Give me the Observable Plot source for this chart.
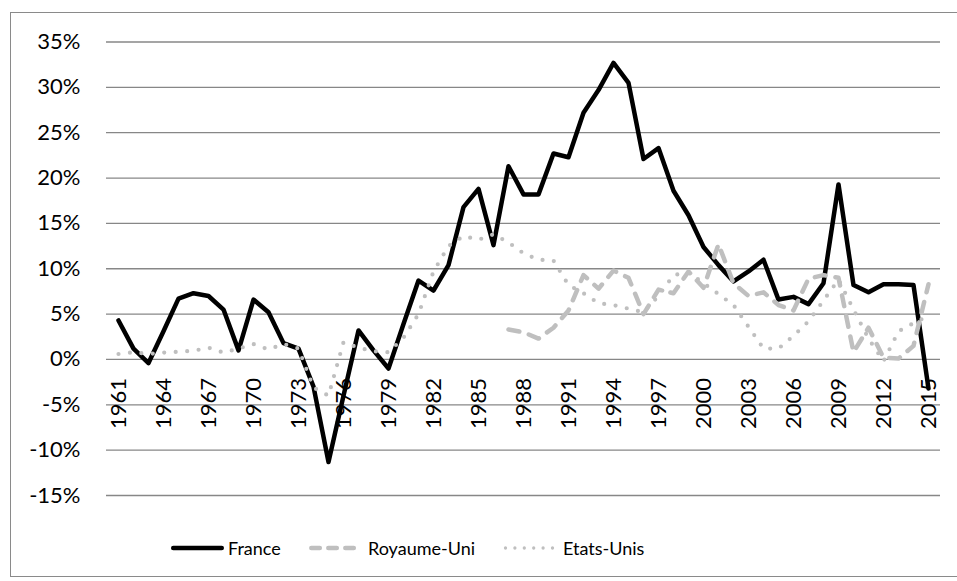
<!DOCTYPE html>
<html>
<head>
<meta charset="utf-8">
<script src="https://cdn.jsdelivr.net/npm/d3@7"></script>
<script src="https://cdn.jsdelivr.net/npm/@observablehq/plot@0.6"></script>
<style>
  body { margin: 0; background: #fff; }
  #wrap { position: relative; width: 957px; height: 581px; overflow: hidden; font-family: Lato, "Open Sans", sans-serif; }
  #frame { position: absolute; left: 9.5px; top: 12px; width: 960px; height: 565px; border: 1.3px solid #8a8a8a; box-sizing: border-box; pointer-events: none; }
  #chart { position: absolute; left: 0; top: 0; }
  #legend { position: absolute; left: 0; top: 520px; }
</style>
</head>
<body>
<div id="wrap">
  <div id="chart"></div>
  <div id="legend"></div>
  <div id="frame"></div>
</div>
<script>
// ---- Data ----
const years = [1961,1962,1963,1964,1965,1966,1967,1968,1969,1970,
               1971,1972,1973,1974,1975,1976,1977,1978,1979,1980,
               1981,1982,1983,1984,1985,1986,1987,1988,1989,1990,
               1991,1992,1993,1994,1995,1996,1997,1998,1999,2000,
               2001,2002,2003,2004,2005,2006,2007,2008,2009,2010,
               2011,2012,2013,2014,2015];

const france = [4.3, 1.2, -0.4, 3.1, 6.7, 7.3, 7.0, 5.5, 1.0, 6.6,
                5.2, 1.8, 1.2, -3.0, -11.3, -4.0, 3.2, 1.0, -1.0, 3.9,
                8.7, 7.6, 10.4, 16.8, 18.8, 12.6, 21.3, 18.2, 18.2, 22.7,
                22.3, 27.2, 29.7, 32.7, 30.5, 22.1, 23.3, 18.6, 15.9, 12.4,
                10.4, 8.6, 9.7, 11.0, 6.6, 6.9, 6.1, 8.4, 19.3, 8.2,
                7.4, 8.3, 8.3, 8.2, -3.2];

const ukYears = [1987,1988,1989,1990,1991,1992,1993,1994,1995,1996,
                 1997,1998,1999,2000,2001,2002,2003,2004,2005,2006,
                 2007,2008,2009,2010,2011,2012,2013,2014,2015];
const royaumeUni = [3.3, 3.0, 2.3, 3.5, 5.4, 9.3, 7.8, 9.8, 9.0, 5.0,
                    7.7, 7.3, 9.7, 7.9, 12.7, 8.4, 7.0, 7.4, 6.0, 5.4,
                    8.9, 9.3, 9.0, 0.8, 3.5, 0.2, 0.1, 1.5, 8.3];

const etatsUnis = [0.6, 0.8, 0.6, 0.75, 0.85, 0.95, 1.3, 0.75, 1.2, 1.7,
                   1.1, 1.7, 1.2, -3.1, -4.0, 1.9, 1.3, 0.9, 0.8, 2.4,
                   5.0, 9.7, 12.5, 13.6, 13.2, 13.8, 12.9, 11.7, 11.0, 10.9,
                   8.2, 7.3, 6.2, 6.0, 5.6, 5.2, 7.0, 9.3, 9.6, 8.4,
                   7.2, 6.0, 3.6, 1.2, 1.2, 2.6, 4.2, 6.5, 8.8, 5.5,
                   2.3, -0.2, 3.1, 4.0, 4.8];

const xTickYears = [1961,1964,1967,1970,1973,1976,1979,1982,1985,1988,
                    1991,1994,1997,2000,2003,2006,2009,2012,2015];
const yTicks = [-15,-10,-5,0,5,10,15,20,25,30,35];
const seriesNames = ["France", "Royaume-Uni", "Etats-Unis"];

// ---- Tables built from the arrays ----
const franceData = years.map((year, i) => ({year, value: france[i]}));
const ukData = ukYears.map((year, i) => ({year, value: royaumeUni[i]}));
const usData = years.map((year, i) => ({year, value: etatsUnis[i]}));

const GREY = "#bfbfbf";

const chart = Plot.plot({
  width: 957,
  height: 520,
  marginLeft: 106,
  marginRight: 17,
  marginTop: 41.5,
  marginBottom: 25,
  style: {fontFamily: "Lato, 'Open Sans', sans-serif", fontSize: "22px", color: "#000", background: "transparent", overflow: "visible"},
  x: {type: "point", domain: years, padding: 0.5, axis: null},
  y: {domain: [-15, 35], ticks: yTicks, tickFormat: d => `${d}%`, tickSize: 0, tickPadding: 26, label: null},
  marks: [
    Plot.ruleY(yTicks, {stroke: "#878787", strokeWidth: 1.3}),
    Plot.text(xTickYears, {x: d => d, y: d => 0, text: d => String(d), rotate: -90, textAnchor: "end", dy: 18.5, fontSize: 22, fill: "#000"}),
    Plot.line(franceData, {x: "year", y: "value", stroke: "#000", strokeWidth: 4.5, strokeLinejoin: "round", strokeLinecap: "round"}),
    Plot.line(ukData, {x: "year", y: "value", stroke: GREY, strokeWidth: 4.5, strokeDasharray: "11,10", strokeLinecap: "round", strokeLinejoin: "round"}),
    Plot.line(usData, {x: "year", y: "value", stroke: GREY, strokeWidth: 4.2, strokeDasharray: "0,11.5", strokeLinecap: "round", strokeLinejoin: "round"})
  ]
});
document.getElementById("chart").appendChild(chart);

// ---- Legend ----
const legendItems = [
  {name: seriesNames[0], x1: 173.3, x2: 221.7, tx: 228, stroke: "#000", width: 4.7, dash: null},
  {name: seriesNames[1], x1: 311.3, x2: 355, tx: 368, stroke: GREY, width: 4.5, dash: "8.5,8.5"},
  {name: seriesNames[2], x1: 505.5, x2: 554, tx: 563, stroke: GREY, width: 3.3, dash: "0,9.4"}
];
const leg = d3.create("svg").attr("width", 957).attr("height", 61)
  .style("font-family", "Lato, 'Open Sans', sans-serif").style("font-size", "18px");
const g = leg.selectAll("g").data(legendItems).join("g");
g.append("line")
  .attr("x1", d => d.x1).attr("x2", d => d.x2).attr("y1", 28).attr("y2", 28)
  .attr("stroke", d => d.stroke).attr("stroke-width", d => d.width)
  .attr("stroke-linecap", "round")
  .attr("stroke-dasharray", d => d.dash);
g.append("text").attr("x", d => d.tx).attr("y", 35).attr("fill", "#000").text(d => d.name);
document.getElementById("legend").appendChild(leg.node());
</script>
</body>
</html>
